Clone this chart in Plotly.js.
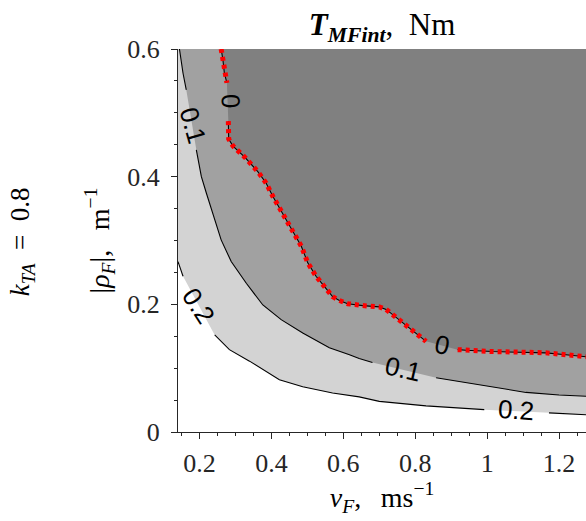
<!DOCTYPE html>
<html><head><meta charset="utf-8">
<script src="https://cdn.plot.ly/plotly-3.0.1.min.js"></script>
<style>html,body{margin:0;padding:0;background:#fff}</style>
</head><body><div id="chart" style="width:586px;height:521px"></div>
<script>
// Contour T_MFint = 0 (null = break for inline label)
const c0V   = [0.260,0.265,0.269,0.276,null,0.280,0.281,0.281,0.293,0.325,0.362,0.385,0.404,0.427,0.450,0.473,0.483,0.501,0.524,0.547,0.570,0.589,0.612,0.654,0.700,0.719,0.737,0.760,0.793,0.830,null,0.918,0.941,1.015,1.108,1.163,1.219,1.275];
const c0Rho = [0.600,0.583,0.562,0.547,null,0.487,0.471,0.459,0.448,0.431,0.408,0.390,0.369,0.346,0.325,0.301,0.291,0.265,0.244,0.228,0.212,0.206,0.201,0.198,0.196,0.192,0.184,0.173,0.158,0.142,null,0.129,0.128,0.126,0.125,0.124,0.121,0.118];
// Contour T_MFint = 0.1
const c1V   = [0.144,0.154,0.163,null,0.191,0.205,0.219,0.237,0.251,0.260,0.288,0.330,0.376,0.427,0.487,0.561,0.617,0.644,0.681,null,0.858,0.941,1.033,1.108,1.200,1.275];
const c1Rho = [0.600,0.562,0.536,null,0.442,0.400,0.374,0.343,0.317,0.301,0.267,0.233,0.199,0.176,0.155,0.132,0.121,0.115,0.109,null,0.085,0.077,0.069,0.062,0.058,0.056];
// Contour T_MFint = 0.2
const c2V   = [0.140,0.154,null,0.242,0.283,0.339,0.422,0.487,0.570,0.644,0.700,0.830,0.969,0.992,null,1.172,1.275];
const c2Rho = [0.267,0.244,null,0.152,0.129,0.111,0.082,0.071,0.061,0.055,0.048,0.041,0.036,0.035,null,0.030,0.027];

// inline contour labels
const labelText  = ["0","0","0.1","0.1","0.2","0.2"];
const labelV     = [0.286,0.874,0.181,0.767,0.197,1.080];
const labelRho   = [0.518,0.137,0.481,0.099,0.197,0.035];
const labelAngle = [88,12,74,13,57,4];

// axes
const vRange = [0.14, 1.275];
const rhoRange = [0, 0.6];
const xTickVals = [0.2,0.4,0.6,0.8,1.0,1.2];
const xTickText = ["0.2","0.4","0.6","0.8","1","1.2"];
const yTickVals = [0,0.2,0.4,0.6];
const yTickText = ["0","0.2","0.4","0.6"];

const fillColors = ["#d3d3d3","#a1a1a1","#808080"];

function clean(a){ return a.filter(v => v !== null); }
function region(vs, rs, color, cornerV){
  const x = clean(vs).concat([vRange[1], cornerV]);
  const y = clean(rs).concat([rhoRange[1], rhoRange[1]]);
  return {x:x, y:y, type:'scatter', mode:'none', fill:'toself', fillcolor:color, hoverinfo:'skip', showlegend:false};
}
function line(vs, rs, color, width, dash){
  return {x:vs, y:rs, type:'scatter', mode:'lines', connectgaps:false,
          line:{color:color, width:width, dash:dash||'solid'}, hoverinfo:'skip', showlegend:false};
}

const traces = [
  region(c2V, c2Rho, fillColors[0], vRange[0]),
  region(c1V, c1Rho, fillColors[1], c1V[0]),
  region(c0V, c0Rho, fillColors[2], c0V[0]),
  line(c2V, c2Rho, '#000', 1.1),
  line(c1V, c1Rho, '#000', 1.1),
  line(c0V, c0Rho, '#000', 1.1),
  line(c0V, c0Rho, '#ff0000', 5, '4px,4px')
];

const serif = '"Liberation Serif", "Times New Roman", serif';
const annotations = labelText.map((t,i) => ({
  text:t, x:labelV[i], y:labelRho[i], xref:'x', yref:'y', showarrow:false,
  textangle:labelAngle[i], xanchor:'center', yanchor:'middle',
  font:{family:'"Liberation Sans", Arial, sans-serif', size:26, color:'#000'}
}));
annotations.push({
  text:'<i>k</i><sub><i>TA</i></sub>\u2002=\u20020.8', xref:'paper', yref:'paper',
  x:-0.382, y:0.496, showarrow:false, textangle:-90, xanchor:'center', yanchor:'middle',
  font:{family:serif, size:27, color:'#000'}
});

const axisCommon = {
  ticks:'outside', ticklen:6, tickwidth:1, tickcolor:'#262626',
  showline:true, linecolor:'#262626', linewidth:1, showgrid:false, zeroline:false,
  tickfont:{family:serif, size:26, color:'#262626'},
  tickmode:'array',
  minor:{ticks:'outside', ticklen:3, tickcolor:'#262626', tickwidth:1, dtick:0.05, tick0:0, showgrid:false}
};

const layout = {
  width:586, height:521,
  margin:{l:178, r:0, t:49, b:89, pad:0},
  paper_bgcolor:'#fff', plot_bgcolor:'#fff', showlegend:false,
  font:{family:serif, size:26, color:'#000'},
  title:{text:'<b><i>T</i></b><sub><b><i>MFint</i></b></sub>,\u2002Nm',
         xref:'paper', x:0.5, xanchor:'center',
         yref:'container', y:0.953, yanchor:'middle', font:{size:31, color:'#000'}},
  xaxis:Object.assign({}, axisCommon, {range:vRange, tickvals:xTickVals, ticktext:xTickText,
         ticklabelstandoff:2,
         title:{text:'<i>v</i><sub><i>F</i></sub>,\u2002\u2009ms<sup>−1</sup>', standoff:2, font:{size:28, color:'#000'}}}),
  yaxis:Object.assign({}, axisCommon, {range:rhoRange, tickvals:yTickVals, ticktext:yTickText,
         ticklabelstandoff:6,
         title:{text:'|<i>ρ</i><sub><i>F</i></sub>|,\u2002\u2009m<sup>−1</sup>', standoff:9, font:{size:28, color:'#000'}}}),
  annotations:annotations
};

Plotly.newPlot('chart', traces, layout, {displayModeBar:false, staticPlot:true});
</script></body></html>
